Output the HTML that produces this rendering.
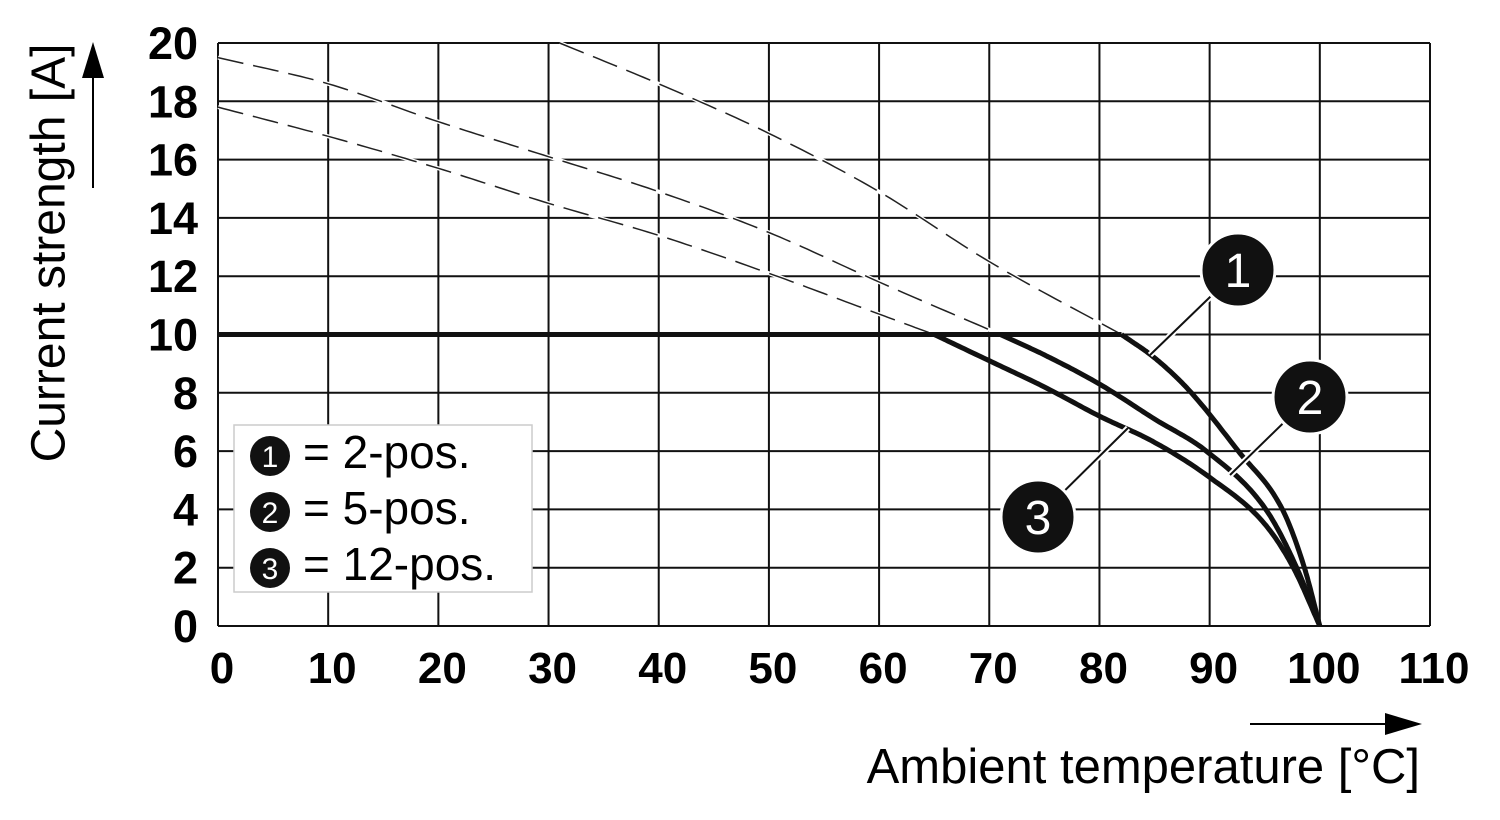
<!DOCTYPE html>
<html><head><meta charset="utf-8"><style>
body{margin:0;background:#fff;}
svg{display:block;font-family:"Liberation Sans",sans-serif;}
</style></head><body>
<svg width="1500" height="820" viewBox="0 0 1500 820">
<g id="grid"></g>
<g id="series"></g>
<g id="ticks"></g>
<text x="52" y="253" font-size="48" text-anchor="middle" dominant-baseline="middle" transform="rotate(-90 52 253)">Current strength [A]</text>
<g><line x1="93" y1="188" x2="93" y2="70" stroke="#000" stroke-width="2"/><polygon points="82,78 104,78 93,42" fill="#000"/></g>
<text x="1420" y="783" font-size="49" text-anchor="end">Ambient temperature [°C]</text>
<g><line x1="1250" y1="724" x2="1395" y2="724" stroke="#000" stroke-width="2"/><polygon points="1385,713 1385,735 1422,724" fill="#000"/></g>
<g>
<rect x="234" y="425" width="298" height="167" fill="#fff" stroke="#ccc" stroke-width="1.5"/>
<g><circle cx="270" cy="456" r="20" fill="#111"/><text x="270" y="467" font-size="30" fill="#fff" text-anchor="middle">1</text><text x="303" y="468" font-size="46">= 2-pos.</text></g>
<g><circle cx="270" cy="512" r="20" fill="#111"/><text x="270" y="523" font-size="30" fill="#fff" text-anchor="middle">2</text><text x="303" y="524" font-size="46">= 5-pos.</text></g>
<g><circle cx="270" cy="568" r="20" fill="#111"/><text x="270" y="579" font-size="30" fill="#fff" text-anchor="middle">3</text><text x="303" y="580" font-size="46">= 12-pos.</text></g>
</g>
<g id="callouts"></g>
</svg>
<script>
const xTicks=[0,10,20,30,40,50,60,70,80,90,100,110];
const yTicks=[0,2,4,6,8,10,12,14,16,18,20];
const flatX=[0,82];
const flatY=[10,10];
const s1DashX=[31,40,50,60,70,82];
const s1DashY=[20,18.6,16.9,14.9,12.5,10];
const s1X=[82,85,88.1,92.6,96.6,98.6,100];
const s1Y=[10,9.2,8.1,6,4,2,0];
const s2DashX=[0,10,20,30,40,50,60,71];
const s2DashY=[19.5,18.6,17.3,16.1,14.9,13.5,11.8,10];
const s2X=[71,75,80,85,89.7,95.1,97.9,100];
const s2Y=[10,9.3,8.3,7.1,6,4,2,0];
const s3DashX=[0,10,20,30,40,50,60,65];
const s3DashY=[17.8,16.8,15.7,14.5,13.4,12.1,10.7,10];
const s3X=[65,70,75,80,85,90,95,97.6,100];
const s3Y=[10,9.1,8.2,7.2,6.3,5.1,3.5,2,0];
const X0=218,X1=1430,Y0=626,Y1=43;
const sx=v=>X0+(v-0)/110*(X1-X0);
const sy=v=>Y0-(v/20)*(Y0-Y1);
const NS="http://www.w3.org/2000/svg";
function mk(tag,attrs,parent){const e=document.createElementNS(NS,tag);for(const k in attrs)e.setAttribute(k,attrs[k]);parent.appendChild(e);return e;}
const grid=document.getElementById('grid'),ticks=document.getElementById('ticks'),series=document.getElementById('series'),call=document.getElementById('callouts');
xTicks.forEach(v=>{
 const l=mk('line',{x1:sx(v),x2:sx(v),y1:Y1,y2:Y0,stroke:'#111','stroke-width':2},grid);
 
 
 const t=mk('text',{x:sx(v)+4,y:683,'font-size':44,'font-weight':'bold','text-anchor':'middle'},ticks);t.textContent=v;
 
 
});
yTicks.forEach(v=>{
 const l=mk('line',{x1:X0,x2:X1,y1:sy(v),y2:sy(v),stroke:'#111','stroke-width':2},grid);
 
 
 const t=mk('text',{x:198,y:sy(v)+16,'font-size':45,'font-weight':'bold','text-anchor':'end'},ticks);t.textContent=v;
 
 
});
function path(xs,ys){return xs.map((x,i)=>(i?'L':'M')+sx(x).toFixed(1)+' '+sy(ys[i]).toFixed(1)).join(' ');}
// monotone cubic (Fritsch-Carlson) sampled
function smooth(xs,ys){
 const n=xs.length,d=[],m=new Array(n);
 for(let i=0;i<n-1;i++)d.push((ys[i+1]-ys[i])/(xs[i+1]-xs[i]));
 m[0]=d[0];m[n-1]=d[n-2];
 for(let i=1;i<n-1;i++)m[i]=(d[i-1]*d[i]<=0)?0:(d[i-1]+d[i])/2;
 for(let i=0;i<n-1;i++){if(d[i]===0){m[i]=m[i+1]=0;continue;}const a=m[i]/d[i],b=m[i+1]/d[i],s=a*a+b*b;if(s>9){const t=3/Math.sqrt(s);m[i]=t*a*d[i];m[i+1]=t*b*d[i];}}
 let out='M'+sx(xs[0]).toFixed(1)+' '+sy(ys[0]).toFixed(1);
 for(let i=0;i<n-1;i++){const h=xs[i+1]-xs[i];
  for(let k=1;k<=20;k++){const t=k/20,h00=2*t*t*t-3*t*t+1,h10=t*t*t-2*t*t+t,h01=-2*t*t*t+3*t*t,h11=t*t*t-t*t;
   const x=xs[i]+t*h,y=h00*ys[i]+h10*h*m[i]+h01*ys[i+1]+h11*h*m[i+1];
   out+=' L'+sx(x).toFixed(1)+' '+sy(y).toFixed(1);}}
 return out;}
[[s1DashX,s1DashY,'series-1-dashed'],[s2DashX,s2DashY,'series-2-dashed'],[s3DashX,s3DashY,'series-3-dashed']].forEach(([a,b,n])=>{
 const e=mk('path',{d:smooth(a,b),fill:'none',stroke:'#fff','stroke-width':4},series);
 
 
 const e2=mk('path',{d:smooth(a,b),fill:'none',stroke:'#222','stroke-width':1.5,'stroke-dasharray':'26 10'},series);
 
 
});
const fl=mk('path',{d:path(flatX,flatY),fill:'none',stroke:'#111','stroke-width':5},series);


[[s1X,s1Y,'series-1'],[s2X,s2Y,'series-2'],[s3X,s3Y,'series-3']].forEach(([a,b,n])=>{
 const e=mk('path',{d:smooth(a,b),fill:'none',stroke:'#111','stroke-width':5,'stroke-linejoin':'round'},series);
 
 
});
[[1238,270,1150,355,'1'],[1310,397,1230,475,'2'],[1038,517,1128,428,'3']].forEach(([cx,cy,lx,ly,t])=>{
 const g=mk('g',{},call);
 
 
 mk('line',{x1:cx,y1:cy,x2:lx,y2:ly,stroke:'#fff','stroke-width':6},g);
 mk('line',{x1:cx,y1:cy,x2:lx,y2:ly,stroke:'#111','stroke-width':2},g);
 mk('circle',{cx:cx,cy:cy,r:37,fill:'#111',stroke:'#fff','stroke-width':3},g);
 const tt=mk('text',{x:cx,y:cy+17,'font-size':48,fill:'#fff','text-anchor':'middle'},g);tt.textContent=t;
});
</script>
</body></html>
